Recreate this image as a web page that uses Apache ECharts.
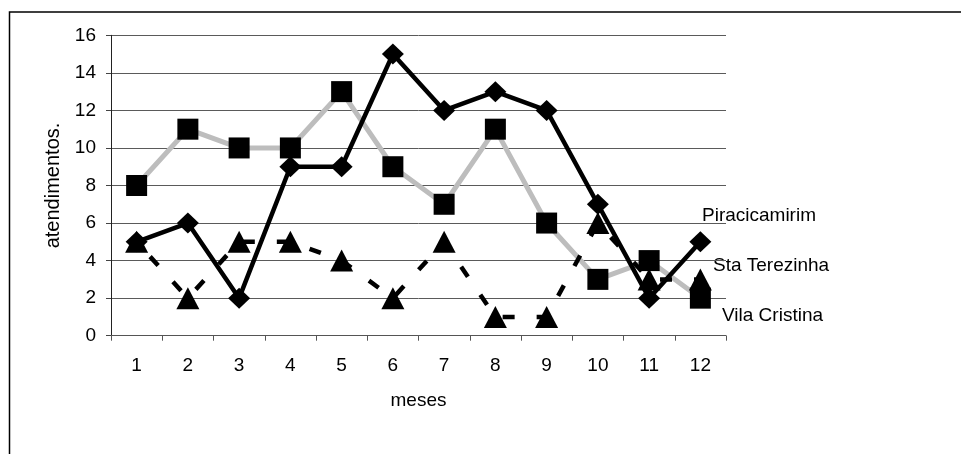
<!DOCTYPE html>
<html>
<head>
<meta charset="utf-8">
<script src="https://cdn.jsdelivr.net/npm/echarts@6/dist/echarts.min.js"></script>
<style>
  html, body { margin: 0; padding: 0; background: #fff; }
  #chart { width: 961px; height: 454px; }
</style>
</head>
<body>
<div id="chart"></div>
<script>
// Monthly counts of appointments per neighbourhood
const months = ['1', '2', '3', '4', '5', '6', '7', '8', '9', '10', '11', '12'];
const piracicamirim = [5, 6, 2, 9, 9, 15, 12, 13, 12, 7, 2, 5];
const staTerezinha = [5, 2, 5, 5, 4, 2, 5, 1, 1, 6, 3, 3];
const vilaCristina = [8, 11, 10, 10, 13, 9, 7, 11, 6, 3, 4, 2];
const yTicks = { min: 0, max: 16, interval: 2 };

const font = 'Liberation Sans, Arial, sans-serif';
const fs = 19;
const chart = echarts.init(document.getElementById('chart'), null, { renderer: 'canvas' });

chart.setOption({
  animation: false,
  backgroundColor: '#ffffff',
  grid: { left: 111, right: 235, top: 35.3, bottom: 118.3 },
  xAxis: {
    type: 'category',
    data: months,
    boundaryGap: true,
    name: 'meses',
    nameLocation: 'middle',
    nameGap: 56,
    nameTextStyle: { fontFamily: font, fontSize: fs, color: '#000' },
    axisLine: { lineStyle: { color: '#555', width: 1 } },
    axisTick: { show: true, length: 5, alignWithLabel: false, lineStyle: { color: '#555' } },
    axisLabel: { fontFamily: font, fontSize: fs, color: '#000', margin: 21 },
    splitLine: { show: false }
  },
  yAxis: {
    type: 'value',
    min: yTicks.min,
    max: yTicks.max,
    interval: yTicks.interval,
    name: 'atendimentos.',
    nameLocation: 'middle',
    nameGap: 48,
    nameTextStyle: { fontFamily: font, fontSize: 20, color: '#000' },
    axisLine: { show: true, lineStyle: { color: '#222', width: 1 } },
    axisTick: { show: true, length: 5, lineStyle: { color: '#444' } },
    axisLabel: { fontFamily: font, fontSize: fs, color: '#000', margin: 15 },
    splitLine: { show: true, lineStyle: { color: '#5a5a5a', width: 1 } }
  },
  series: [
    {
      name: 'Vila Cristina',
      type: 'line',
      data: vilaCristina,
      symbol: 'rect',
      symbolSize: 21,
      itemStyle: { color: '#000' },
      lineStyle: { color: '#bdbdbd', width: 5 },
      z: 2
    },
    {
      name: 'Piracicamirim',
      type: 'line',
      data: piracicamirim,
      symbol: 'diamond',
      symbolSize: [22, 21],
      itemStyle: { color: '#000' },
      lineStyle: { color: '#000', width: 4.5 },
      z: 3
    },
    {
      name: 'Sta Terezinha',
      type: 'line',
      data: staTerezinha,
      symbol: 'triangle',
      symbolSize: [23, 22],
      itemStyle: { color: '#000' },
      lineStyle: { color: '#000', width: 4.5, type: [12, 22], dashOffset: 14 },
      z: 4
    }
  ],
  graphic: [
    {
      type: 'rect',
      shape: { x: 9.5, y: 12, width: 1000, height: 500 },
      style: { fill: 'none', stroke: '#000', lineWidth: 1.5 },
      silent: true
    },
    {
      type: 'text', x: 702, y: 216,
      style: { text: 'Piracicamirim', font: fs + 'px ' + font, fill: '#000', verticalAlign: 'middle' }
    },
    {
      type: 'text', x: 713, y: 266,
      style: { text: 'Sta Terezinha', font: fs + 'px ' + font, fill: '#000', verticalAlign: 'middle' }
    },
    {
      type: 'text', x: 722, y: 316,
      style: { text: 'Vila Cristina', font: fs + 'px ' + font, fill: '#000', verticalAlign: 'middle' }
    }
  ]
});
</script>
</body>
</html>
